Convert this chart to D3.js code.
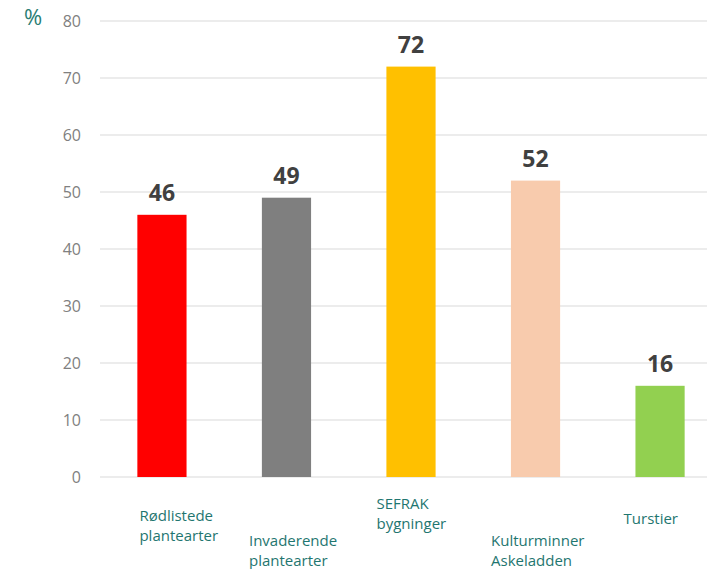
<!DOCTYPE html>
<html><head><meta charset="utf-8">
<script src="https://cdn.jsdelivr.net/npm/d3@7/dist/d3.min.js"></script>
<style>body{margin:0;background:#fff}svg{display:block}</style>
</head><body>
<svg id="c" width="707" height="569"></svg>
<script>
const categories = [["Rødlistede","plantearter"],["Invaderende","plantearter"],["SEFRAK","bygninger"],["Kulturminner","Askeladden"],["Turstier"]];
const values = [46, 49, 72, 52, 16];
const colors = ["#ff0000","#7f7f7f","#ffc000","#f8cbad","#92d050"];
const yTicks = [0,10,20,30,40,50,60,70,80];
// layout: label left offset relative to band center, first baseline
const labelDx = [-22.5,-37.5,-34.5,-44.5,-36.5];
const labelY = [521,546,509,546,524];

const svg = d3.select("#c");
const x = d3.scaleBand().domain(d3.range(values.length)).range([100,722]).paddingInner(0.605).paddingOuter(0.3);
const y = d3.scaleLinear().domain([0,80]).range([477,21]);

svg.append("g").selectAll("line").data(yTicks).join("line")
  .attr("x1",100).attr("x2",707).attr("y1",d=>y(d)).attr("y2",d=>y(d))
  .attr("stroke","#d9d9d9").attr("stroke-width",1);
svg.append("g").selectAll("text").data(yTicks).join("text")
  .attr("x",81).attr("y",d=>y(d)+5.5).attr("text-anchor","end")
  .attr("font-family","Open Sans").attr("font-size",16).attr("fill","#808080").text(d=>d);
svg.append("text").attr("x",24).attr("y",25).attr("font-family","Open Sans").attr("font-size",22)
  .attr("fill","#2a7d74").text("%");

const cx = i => x(i)+x.bandwidth()/2;
svg.append("g").selectAll("rect").data(values).join("rect")
  .attr("x",(d,i)=>x(i)).attr("width",x.bandwidth())
  .attr("y",d=>y(d)).attr("height",d=>y(0)-y(d)).attr("fill",(d,i)=>colors[i]);
svg.append("g").selectAll("text").data(values).join("text")
  .attr("x",(d,i)=>cx(i)).attr("y",d=>y(d)-14).attr("text-anchor","middle")
  .attr("font-family","Open Sans").attr("font-weight","bold").attr("font-size",23)
  .attr("fill","#404040").text(d=>d);

const lg = svg.append("g").selectAll("text").data(categories).join("text")
  .attr("font-family","Open Sans").attr("font-size",15).attr("fill","#1f7670")
  .attr("x",(d,i)=>cx(i)+labelDx[i]).attr("y",(d,i)=>labelY[i]);
lg.each(function(d,i){
  d3.select(this).selectAll("tspan").data(d).join("tspan")
    .attr("x",cx(i)+labelDx[i]).attr("dy",(t,j)=>j?19.5:0).text(t=>t);
});
</script>
</body></html>
